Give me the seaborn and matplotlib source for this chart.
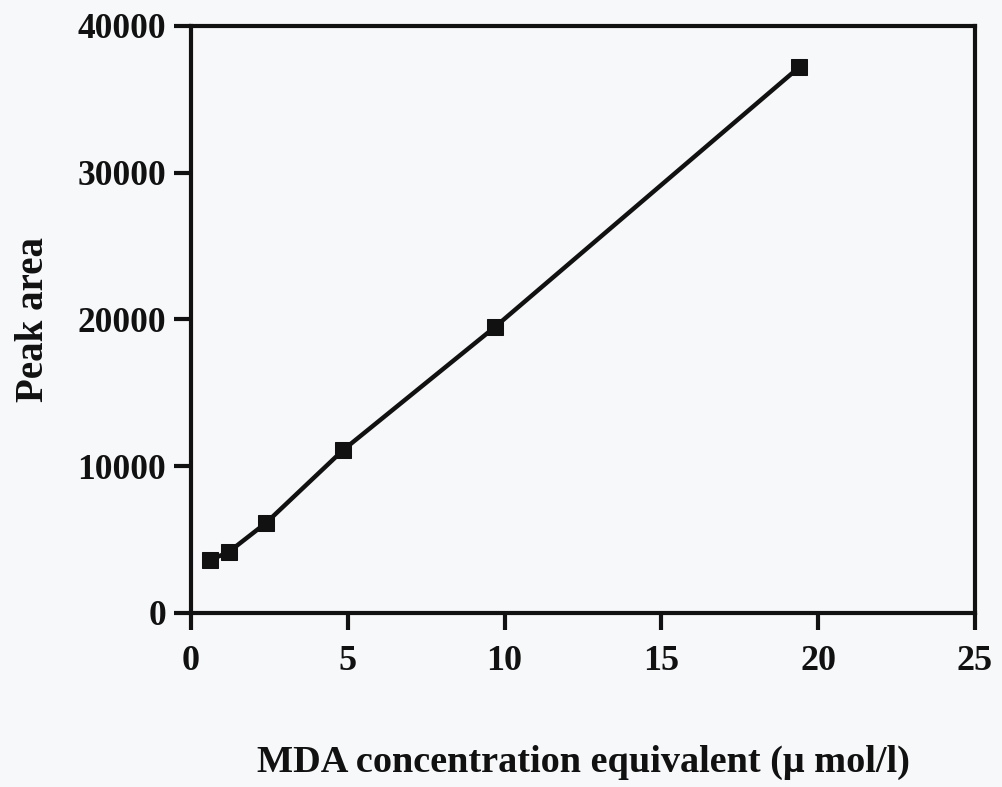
import matplotlib
matplotlib.use("Agg")
import matplotlib.pyplot as plt
import seaborn as sns
import pandas as pd

conc = [0.6, 1.2, 2.4, 4.85, 9.7, 19.4]
peak_area = [3600, 4150, 6150, 11100, 19500, 37200]
x_ticks = [0, 5, 10, 15, 20, 25]
y_ticks = [0, 10000, 20000, 30000, 40000]
x_label = "MDA concentration equivalent (\u03bc mol/l)"
y_label = "Peak area"

df = pd.DataFrame({"x": conc, "y": peak_area})

sns.set_style("ticks")
plt.rcParams['font.family'] = ['Liberation Serif', 'DejaVu Serif']
bg = "#f7f8fa"

fig = plt.figure(figsize=(10.02, 7.87), dpi=100, facecolor=bg)
ax = fig.add_axes([0.1906, 0.2211, 0.973 - 0.1906, 0.967 - 0.2211])
ax.set_facecolor(bg)

sns.lineplot(data=df, x="x", y="y", ax=ax, color="#111111", linewidth=3.2,
             marker="s", markersize=12, markeredgecolor="#111111",
             markerfacecolor="#111111")

ax.set_xlim(0, 25)
ax.set_ylim(0, 40000)
ax.set_xticks(x_ticks)
ax.set_yticks(y_ticks)
ax.set_xticklabels([str(t) for t in x_ticks], fontsize=26, fontweight="bold")
ax.set_yticklabels([str(t) for t in y_ticks], fontsize=25.5, fontweight="bold")
ax.tick_params(axis="both", direction="out", length=12, width=3, color="#111111",
               labelcolor="#111111")
ax.tick_params(axis="x", pad=11)
ax.tick_params(axis="y", pad=6)

for s in ax.spines.values():
    s.set_linewidth(3)
    s.set_color("#111111")
    s.set_visible(True)

ax.set_xlabel(x_label, fontsize=27.5, fontweight="bold", color="#111111", labelpad=48)
ax.set_ylabel(y_label, fontsize=28, fontweight="bold", color="#111111", labelpad=18)

fig.savefig("out.png", dpi=100, facecolor=bg)
